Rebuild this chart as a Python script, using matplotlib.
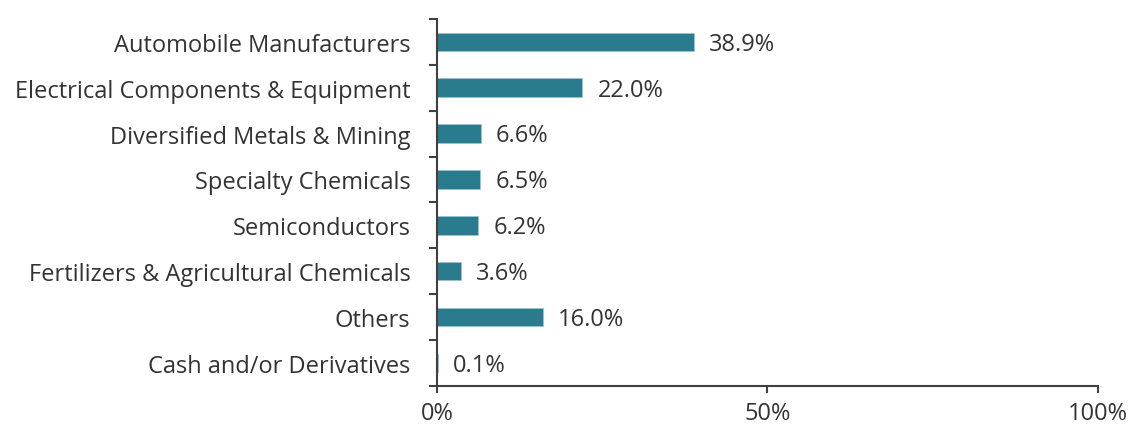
import matplotlib.pyplot as plt
from matplotlib.ticker import FixedLocator, PercentFormatter
import numpy as np

plt.rcParams['font.family'] = ['Open Sans', 'DejaVu Sans']

categories = ["Automobile Manufacturers",
              "Electrical Components & Equipment",
              "Diversified Metals & Mining",
              "Specialty Chemicals",
              "Semiconductors",
              "Fertilizers & Agricultural Chemicals",
              "Others",
              "Cash and/or Derivatives"]
weights = [38.9, 22.0, 6.6, 6.5, 6.2, 3.6, 16.0, 0.1]

bar_color = "#2a7b8e"
text_color = "#333333"
axis_color = "#404040"
fs = 17

fig = plt.figure(figsize=(11.3, 4.31), dpi=100)
ax = fig.add_axes([0.3867, 0.102, 0.585, 0.852])

y = np.arange(len(categories))
ax.barh(y, weights, height=0.4, color=bar_color, edgecolor="#9cc5cf", linewidth=0.6)

for yi, w in zip(y, weights):
    ax.text(w + 2.3, yi + 0.04, f"{w:.1f}%", va="center", ha="left",
            fontsize=fs, color=text_color)

ax.set_ylim(len(categories) - 0.5, -0.5)
ax.set_xlim(0, 100)
ax.set_yticks(y)
ax.set_yticklabels(categories, fontsize=fs, color=text_color)
ax.yaxis.set_minor_locator(FixedLocator(np.arange(-0.5, len(categories), 1.0)))
ax.tick_params(axis="y", which="major", length=0, pad=19)
ax.tick_params(axis="y", which="minor", length=6, width=1.5, color=axis_color)

ax.set_xticks([0, 50, 100])
ax.xaxis.set_major_formatter(PercentFormatter(decimals=0))
ax.tick_params(axis="x", length=5, width=1.5, color=axis_color,
               labelsize=fs, labelcolor=text_color, pad=6)

for side in ["top", "right"]:
    ax.spines[side].set_visible(False)
for side in ["left", "bottom"]:
    ax.spines[side].set_linewidth(1.5)
    ax.spines[side].set_color(axis_color)

plt.savefig("out.png", dpi=100)
